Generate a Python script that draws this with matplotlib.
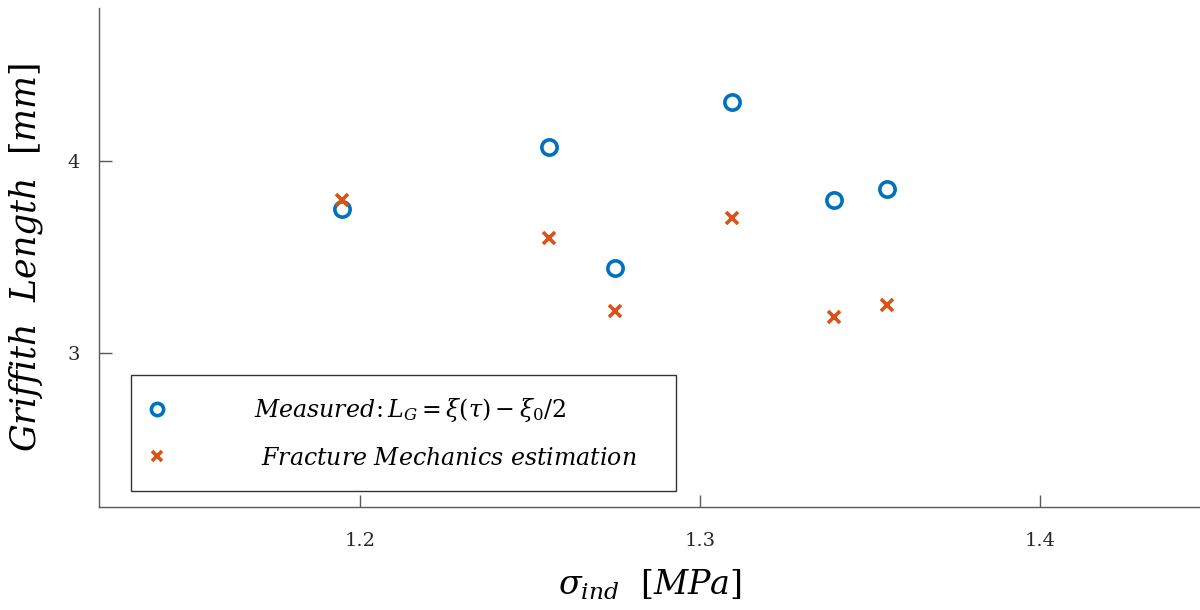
import matplotlib
matplotlib.use("Agg")
import matplotlib.pyplot as plt
import numpy as np

plt.rcParams['mathtext.fontset'] = 'dejavuserif'
plt.rcParams['font.family'] = 'DejaVu Serif'

# values
stress = [1.1947, 1.2556, 1.2750, 1.3094, 1.3394, 1.3550]
measured = [3.752, 4.073, 3.443, 4.307, 3.797, 3.854]
estimated = [3.797, 3.599, 3.219, 3.703, 3.188, 3.250]

xticks = [1.2, 1.3, 1.4]
yticks = [3, 4]

blue = '#0072BD'
orange = '#D95319'
grey = '#5a5a5a'

fig = plt.figure(figsize=(12, 6.1), dpi=100)
ax = fig.add_axes([0.0825, 0.169, 0.9175, 0.818])

ax.plot(stress, measured, 'o', ls='none', ms=11, mew=2.6, mfc='none', mec=blue,
        label=r'$Measured\!:L_G=\xi(\tau)-\xi_0/2$')
ax.plot(stress, estimated, 'x', ls='none', ms=8.5, mew=2.6, color=orange,
        label=r'$\ Fracture\ Mechanics\ estimation$')

ax.set_xlim(1.1232, 1.447)
ax.set_ylim(2.198, 4.797)
ax.set_xticks(xticks)
ax.set_yticks(yticks)
ax.set_xticklabels(['1.2', '1.3', '1.4'])
ax.set_yticklabels(['3', '4'])
ax.tick_params(direction='in', length=9, width=1, color=grey, labelsize=14,
               labelcolor='#262626', pad=18)
ax.tick_params(axis='y', pad=14)

for s in ['top', 'right']:
    ax.spines[s].set_visible(False)
for s in ['left', 'bottom']:
    ax.spines[s].set_color(grey)
    ax.spines[s].set_linewidth(1)

ax.set_xlabel(r'$\sigma_{ind}\ \ [MPa]$', fontsize=24, labelpad=13)
ax.set_ylabel(r'$Griffith\ \ Length\ \ [mm]$', fontsize=25, labelpad=16)

leg = ax.legend(loc='lower left', bbox_to_anchor=(0.029, 0.032, 0.495, 0.2365),
                mode='expand', borderaxespad=0, fontsize=17, frameon=True,
                fancybox=False, edgecolor='black', markerscale=0.8,
                handlelength=0.4, handletextpad=3.9, labelspacing=0.95,
                borderpad=0.9)
leg.get_frame().set_linewidth(1)

fig.savefig('out.png', dpi=100)
